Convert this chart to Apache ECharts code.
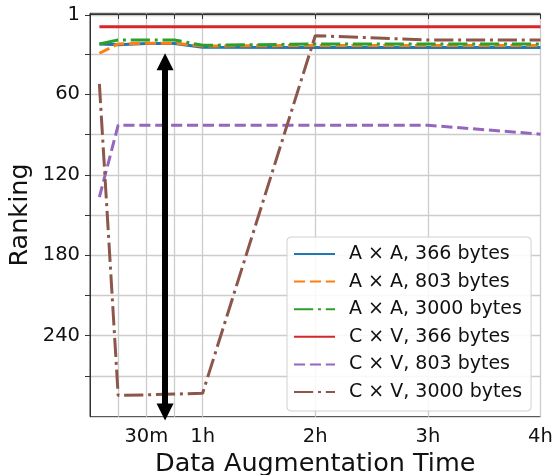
<!DOCTYPE html>
<html>
<head>
<meta charset="utf-8">
<script src="https://cdn.jsdelivr.net/npm/echarts@6/dist/echarts.min.js"></script>
<style>
html,body{margin:0;padding:0;background:#fff;}
#chart{width:553px;height:475px;}
</style>
</head>
<body>
<div id="chart"></div>
<script>
// Data (x in minutes of data augmentation time, y = ranking)
const timeMinutes = [5, 15, 30, 45, 60, 120, 180, 240];
const seriesNames = [
  'A × A, 366 bytes',
  'A × A, 803 bytes',
  'A × A, 3000 bytes',
  'C × V, 366 bytes',
  'C × V, 803 bytes',
  'C × V, 3000 bytes'
];
const aa366  = [22.4, 23.0, 22.0, 22.0, 24.8, 25.1, 25.1, 25.1];
const aa803  = [29.3, 22.4, 21.8, 21.8, 23.9, 23.5, 23.5, 23.5];
const aa3000 = [22.4, 19.4, 19.4, 19.4, 23.4, 22.4, 22.4, 22.4];
const cv366  = [9.5, 9.5, 9.5, 9.5, 9.5, 9.5, 9.5, 9.5];
const cv803  = [136.6, 83.0, 83.0, 83.0, 83.0, 83.0, 83.0, 89.7];
const cv3000 = [52.2, 284.6, 284.2, 283.6, 283.0, 16.2, 19.4, 19.4];

const xTickValues = [15, 30, 45, 60, 120, 180, 240];
const xLabelValues = [30, 60, 120, 180, 240];
const xLabelText = {30: '30m', 60: '1h', 120: '2h', 180: '3h', 240: '4h'};
const yTickValues = [1, 30, 60, 90, 120, 150, 180, 210, 240, 270];
const yLabelValues = [1, 60, 120, 180, 240];

// annotation arrow (data coordinates)
const arrowX = 40;
const arrowTop = 35.7;
const arrowBottom = 297;

const FONT = 'DejaVu Sans';
const colors = ['#1f77b4', '#ff7f0e', '#2ca02c', '#d62728', '#9467bd', '#8c564b'];
const LW = 3;
const dash = [3.7 * LW, 1.6 * LW];
const dashDot = [6.4 * LW, 1.6 * LW, 1 * LW, 1.6 * LW];
const styles = ['solid', dash, dashDot, 'solid', dash, dashDot];
const values = [aa366, aa803, aa3000, cv366, cv803, cv3000];

const series = seriesNames.map((name, i) => ({
  name: name,
  type: 'line',
  data: timeMinutes.map((t, j) => [t, values[i][j]]),
  symbol: 'none',
  smooth: false,
  lineStyle: {color: colors[i], width: LW, type: styles[i], cap: 'butt'},
  itemStyle: {color: colors[i]},
  emphasis: {disabled: true}
}));

series.push({
  name: 'arrow',
  type: 'line',
  data: [],
  clip: false,
  symbol: 'none',
  markLine: {
    silent: true,
    symbol: ['triangle', 'triangle'],
    symbolSize: [17, 17],
    label: {show: false},
    lineStyle: {color: '#000', width: 6, type: 'solid'},
    emphasis: {disabled: true},
    data: [[{coord: [arrowX, arrowTop]}, {coord: [arrowX, arrowBottom]}]]
  }
});

const chart = echarts.init(document.getElementById('chart'), null, {renderer: 'canvas'});
chart.setOption({
  animation: false,
  backgroundColor: '#fff',
  textStyle: {fontFamily: FONT},
  grid: {left: 90, right: 12.5, top: 13.3, bottom: 58.3, outerBoundsMode: 'none', containLabel: false,
         show: true, borderColor: '#333', borderWidth: 1, backgroundColor: 'transparent'},
  legend: {
    data: seriesNames,
    orient: 'vertical',
    left: 287, top: 237,
    itemWidth: 41, itemHeight: 14, itemGap: 7.6,
    padding: [7, 9, 9, 6],
    backgroundColor: 'rgba(255,255,255,0.85)',
    borderColor: '#d0d0d0', borderWidth: 1, borderRadius: 4,
    itemStyle: {opacity: 0},
    textStyle: {fontSize: 19, fontFamily: FONT, color: '#111', lineHeight: 20, padding: [0, 0, 0, 9]}
  },
  xAxis: {
    type: 'value', min: 0, max: 240,
    name: 'Data Augmentation Time', nameLocation: 'middle', nameGap: 32,
    nameTextStyle: {fontSize: 25.5, fontFamily: FONT, color: '#111'},
    axisLine: {show: true, lineStyle: {color: '#333', width: 1}},
    axisTick: {show: true, customValues: xTickValues, length: 5, lineStyle: {color: '#333', width: 1}},
    axisLabel: {customValues: xLabelValues, formatter: v => xLabelText[v] || '', fontSize: 19.5, fontFamily: FONT, color: '#111', margin: 10},
    splitLine: {show: true, lineStyle: {color: '#cccccc', width: 1.3}}
  },
  yAxis: {
    type: 'value', inverse: true, min: -0.5, max: 300.5,
    name: 'Ranking', nameLocation: 'middle', nameGap: 57, nameMoveOverlap: false,
    nameTextStyle: {fontSize: 25.5, fontFamily: FONT, color: '#111'},
    axisLine: {show: true, lineStyle: {color: '#333', width: 1}},
    axisTick: {show: true, customValues: yTickValues, length: 5, lineStyle: {color: '#333', width: 1}},
    axisLabel: {customValues: yLabelValues, fontSize: 19.5, fontFamily: FONT, color: '#111', margin: 10},
    splitLine: {show: true, lineStyle: {color: '#cccccc', width: 1.3}}
  },
  series: series
});
</script>
</body>
</html>
